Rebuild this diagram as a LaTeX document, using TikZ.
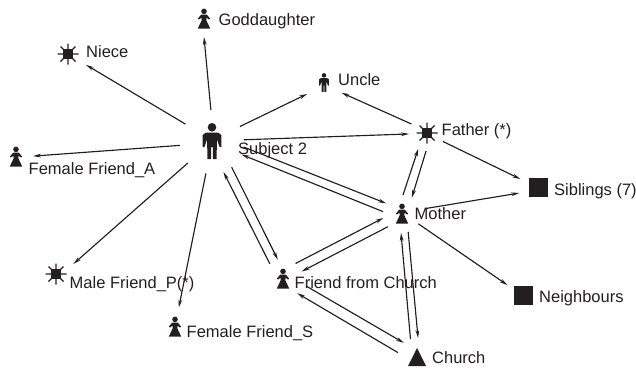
\documentclass[tikz,border=0pt]{standalone}
\usepackage{fontspec}
\setmainfont{Liberation Sans}
\usetikzlibrary{arrows.meta}
\definecolor{ink}{HTML}{231F20}
\tikzset{
  female/.pic={
    \fill[ink] (0,-7.6) circle (2.8);
    \fill[ink] (-2.7,-4.5) -- (2.7,-4.5) -- (6,-.5) -- (5,.7) -- (2.7,-1.5) -- (2.2,1) -- (6.2,9.6)
      -- (-6.2,9.6) -- (-2.2,1) -- (-2.7,-1.5) -- (-5,.7) -- (-6,-.5) -- cycle;
  },
  male/.pic={
    \fill[ink] (0,-14.7) circle (4.3);
    \fill[ink] (-6,-9.5) -- (6,-9.5) -- (9.3,-7) -- (9.5,5) -- (7.6,5) -- (4.8,-3) -- (4.7,17) -- (.9,17)
      -- (.9,5) -- (-.9,5) -- (-.9,17) -- (-4.7,17) -- (-4.8,-3) -- (-7.6,5) -- (-9.5,5) -- (-9.3,-7) -- cycle;
  },
  spark/.pic={
    \fill[ink] (-4.8,-4.8) rectangle (4.8,4.8);
    \draw[ink,line width=1.3pt] (-10.5,0) -- (10.5,0) (0,-10.5) -- (0,10.5)
      (-7.5,-7.5) -- (7.5,7.5) (-7.5,7.5) -- (7.5,-7.5);
  },
  block/.pic={\fill[ink] (-9.5,-9.5) rectangle (9.5,9.5);},
  peak/.pic={\fill[ink] (0,-10) -- (9,8) -- (-9,8) -- cycle;}
}
\begin{document}
\begin{tikzpicture}
[x=1pt,y=-1pt,
hub/.style={circle,inner sep=0pt,outer sep=0pt,minimum size=38pt},
tag/.style={anchor=base west,inner sep=0pt,text=ink,font=\fontsize{16.5}{18}\selectfont},
link/.style={draw=ink,line width=1.15pt,-{Stealth[length=8pt,width=3.8pt]}}]
\useasboundingbox (0,0) rectangle (636,368);
% people
\node[hub,minimum size=64pt] (subject) at (212,142) {};
\node[hub,minimum size=36pt] (goddaughter) at (204,19) {};
\node[hub,minimum size=42pt] (niece) at (68,54) {};
\node[hub,minimum size=34pt] (femaleA) at (16,157) {};
\node[hub,minimum size=40pt] (uncle) at (324,83) {};
\node[hub,minimum size=36pt] (father) at (427,133) {};
\node[hub] (mother) at (402,214) {};
\node[hub,minimum size=40pt] (siblings) at (538.5,187.5) {};
\node[hub] (neighbours) at (523.5,295.5) {};
\node[hub,minimum size=40pt] (friend) at (283,279) {};
\node[hub,minimum size=40pt] (church) at (417,358) {};
\node[hub,minimum size=40pt] (maleP) at (56,274) {};
\node[hub,minimum size=40pt] (femaleS) at (175,327) {};
% icons
\pic at (subject) {male};
\pic at (goddaughter) {female};
\pic at (niece) {spark};
\pic at (femaleA) {female};
\pic[scale=.52] at (uncle) {male};
\pic at (father) {spark};
\pic at (mother) {female};
\pic at (siblings) {block};
\pic at (neighbours) {block};
\pic at (friend) {female};
\pic at (church) {peak};
\pic at (maleP) {spark};
\pic at (femaleS) {female};
% labels
\node[tag] (subjectname) at (238,154) {Subject 2};
\node[tag] (goddaughtername) at (218.5,25) {Goddaughter};
\node[tag] (niecename) at (86,57) {Niece};
\node[tag] (femaleAname) at (28.5,174) {Female Friend\_A};
\node[tag] (unclename) at (338,85) {Uncle};
\node[tag] (fathername) at (441.5,135) {Father (*)};
\node[tag] (mothername) at (414.5,219) {Mother};
\node[tag] (siblingsname) at (554,195) {Siblings (7)};
\node[tag] (neighboursname) at (539,302) {Neighbours};
\node[tag] (friendname) at (294.5,288) {Friend from Church};
\node[tag] (churchname) at (432,363) {Church};
\node[tag] (malePname) at (69.5,288) {Male Friend\_P(*)};
\node[tag] (femaleSname) at (186.5,337) {Female Friend\_S};
% ties
\draw[link] (subject.92) -- (goddaughter.270);
\draw[link] (subject.146) -- (niece.-31);
\draw[link] (subject.186) -- (femaleA.3);
\draw[link] (subject.29) -- (uncle.213);
\draw[link] (subject.4) -- (father.183);
\draw[link] (subject.-9) -- (mother.146);
\draw[link] (mother.173) -- (subject.-23);
\draw[link] (subject.-52) -- (friend.105);
\draw[link] (friend.131) -- (subject.-69);
\draw[link] (subject.221) -- (maleP.30);
\draw[link] (subject.259) -- (femaleS.79);
\draw[link] (father.150) -- (uncle.-29);
\draw[link] (father.-28) -- (siblings.155);
\draw[link] (father.267) -- (mother.59);
\draw[link] (mother.87) -- (father.241);
\draw[link,shorten <=5pt] (mother.14) -- (siblings.196);
\draw[link] (mother.-31) -- (neighbours.147);
\draw[link] (mother.222) -- (friend.22);
\draw[link] (friend.51) -- (mother.192);
\draw[link] (mother.-71) -- (church.87);
\draw[link] (church.109) -- (mother.267);
\draw[link,shorten <=5pt] (friend.-14) -- (church.131);
\draw[link] (church.164) -- (friend.-45);
\end{tikzpicture}
\end{document}
